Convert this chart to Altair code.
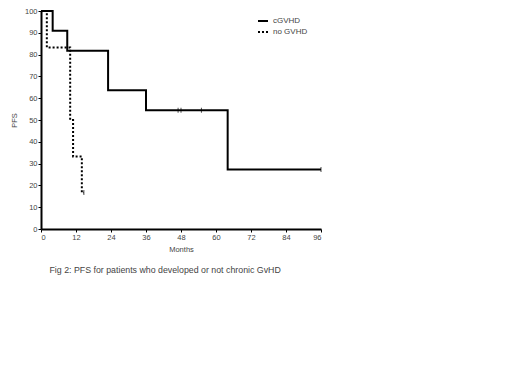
import altair as alt
import pandas as pd

# Kaplan-Meier step data
cg_months = [0, 4, 9, 23, 36, 64, 96]
cg_pfs = [100, 90.9, 81.8, 63.6, 54.5, 27.3, 27.3]
ng_months = [0, 2, 10, 11, 14, 14.7]
ng_pfs = [100, 83.3, 50, 33.3, 16.7, 16.7]

cg_cens_months = [47, 48, 55, 96]
cg_cens_pfs = [54.5, 54.5, 54.5, 27.3]
ng_cens_months = [14.7]
ng_cens_pfs = [16.7]

x_ticks = [0, 12, 24, 36, 48, 60, 72, 84, 96]
y_ticks = list(range(0, 101, 10))
groups = ["cGVHD", "no GVHD"]

lines = pd.DataFrame(
    {"Months": cg_months + ng_months,
     "PFS": cg_pfs + ng_pfs,
     "group": [groups[0]] * len(cg_months) + [groups[1]] * len(ng_months)}
)
cens = pd.DataFrame(
    {"Months": cg_cens_months + ng_cens_months,
     "PFS": cg_cens_pfs + ng_cens_pfs,
     "group": [groups[0]] * len(cg_cens_months) + [groups[1]] * len(ng_cens_months)}
)

FONT = "Liberation Sans"
x = alt.X("Months:Q", scale=alt.Scale(domain=[0, 96], nice=False),
          axis=alt.Axis(values=x_ticks, tickCount=len(x_ticks), title="Months", grid=False,
                        labelOverlap=False))
y = alt.Y("PFS:Q", scale=alt.Scale(domain=[0, 100], nice=False),
          axis=alt.Axis(values=y_ticks, tickCount=len(y_ticks), title="PFS", grid=False,
                        labelOverlap=False))

dash = alt.StrokeDash("group:N", scale=alt.Scale(domain=groups, range=[[1, 0], [2, 2]]),
                      legend=alt.Legend(title=None, orient="none", legendX=216, legendY=4,
                                        symbolType="stroke", symbolStrokeWidth=2,
                                        symbolSize=100, labelFontSize=8, labelFont=FONT,
                                        labelColor="#444", rowPadding=1, symbolStrokeColor="black"))

line_layer = alt.Chart(lines).mark_line(interpolate="step-after", color="black", strokeWidth=2).encode(
    x=x, y=y, strokeDash=dash
)
tick_layer = alt.Chart(cens).mark_tick(orient="vertical", size=5, thickness=1, color="black").encode(
    x=x, y=y
)

chart = alt.layer(line_layer, tick_layer).properties(
    width=280, height=218,
    autosize=alt.AutoSizeParams(type="none"),
    padding={"left": 33, "top": 3, "right": 190, "bottom": 150},
    title=alt.Title("Fig 2: PFS for patients who developed or not chronic GvHD",
                    orient="bottom", anchor="start", dx=39, offset=13,
                    fontSize=8.8, font=FONT, fontWeight="normal", color="#444"),
).configure_axis(
    labelFont=FONT, titleFont=FONT, labelFontSize=7.5, titleFontSize=7.5,
    labelColor="#444", titleColor="#444", titleFontWeight="normal",
    domainColor="black", domainWidth=2, tickColor="black", tickSize=3, tickWidth=1,
    labelPadding=1, labelOverlap=False,
).configure_axisY(titlePadding=6).configure_axisX(titlePadding=5).configure_view(stroke=None)

chart.save("out.html", embed_options={"renderer": "svg", "actions": False})
